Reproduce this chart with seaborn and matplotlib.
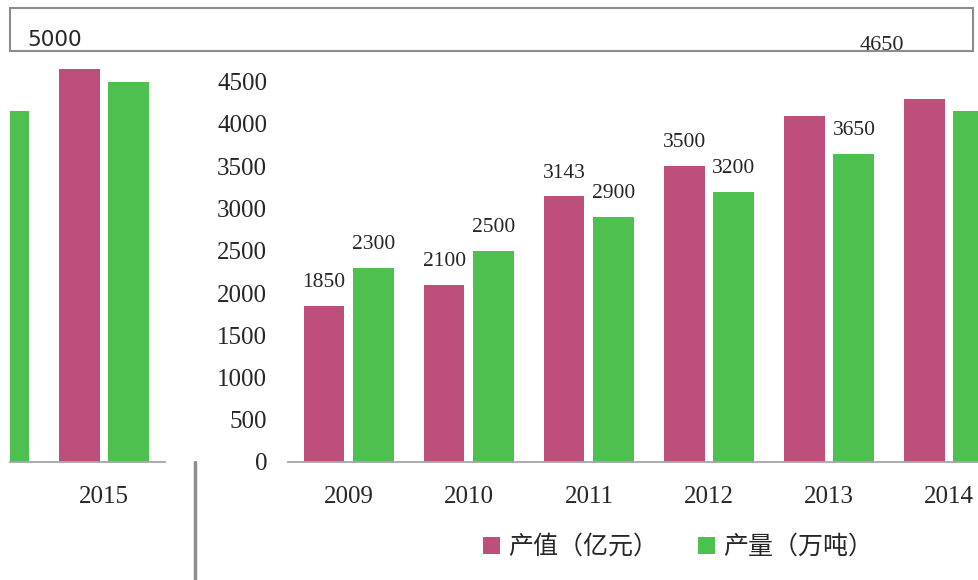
import numpy as np
import pandas as pd
import seaborn as sns
import matplotlib.pyplot as plt
from matplotlib.patches import Patch, Rectangle
from matplotlib.lines import Line2D

# datos
years = ["2009", "2010", "2011", "2012", "2013", "2014", "2015"]
output_value = [1850, 2100, 3143, 3500, 4100, 4300, 4650]   # 产值（亿元）
production = [2300, 2500, 2900, 3200, 3650, 4150, 4500]     # 产量（万吨）
series_names = ["产值（亿元）", "产量（万吨）"]
value_labels = ["1850", "2100", "3143", "3500", "", "", ""]
prod_labels = ["2300", "2500", "2900", "3200", "3650", "", ""]
ytick_values = [0, 500, 1000, 1500, 2000, 2500, 3000, 3500, 4000, 4500]

PINK = "#BE4F7C"
GREEN = "#4EC050"

df = pd.DataFrame({
    "year": years * 2,
    "value": output_value + production,
    "series": [series_names[0]] * len(years) + [series_names[1]] * len(years),
})

sns.set_theme(style="white")
plt.rcParams["font.family"] = ["Liberation Serif", "Noto Sans CJK SC", "DejaVu Sans"]

W, H = 979, 580
fig = plt.figure(figsize=(W / 100, H / 100), dpi=100)

def px_ax(x0, x1, y_top, y_bot):
    return fig.add_axes([x0 / W, 1 - y_bot / H, (x1 - x0) / W, (y_bot - y_top) / H])

ax = px_ax(288, 979, 39.5, 462)
ax_left = px_ax(10, 165, 39.5, 462)

for a in (ax, ax_left):
    sns.barplot(data=df, x="year", y="value", hue="series", order=years,
                hue_order=series_names, palette=[PINK, GREEN], saturation=1,
                width=0.83, gap=0.18, linewidth=0, legend=False, ax=a)
    a.set_ylim(0, 5000)
    a.set_xlabel("")
    a.set_ylabel("")
    for s in ["top", "right", "left"]:
        a.spines[s].set_visible(False)
    a.spines["bottom"].set_color("#A6A6A6")
    a.spines["bottom"].set_linewidth(1.3)
    a.tick_params(axis="x", length=0, pad=17, labelsize=18)
    a.tick_params(axis="y", length=0, pad=15, labelsize=18)

ax.set_xlim(-0.508, 5.25)
ax.set_yticks(ytick_values)
ax.set_yticklabels([str(v) for v in ytick_values])

ax_left.set_xlim(5.217, 6.508)
ax_left.set_yticks([])

# etiquetas de datos
ax.bar_label(ax.containers[0], labels=value_labels, padding=10, fontsize=15.5)
ax.bar_label(ax.containers[1], labels=prod_labels, padding=10, fontsize=15.5)

# textos sueltos en la parte superior
fig.text(55 / W, 1 - 40 / H, "5000", ha="center", va="center", fontsize=15.5,
         family="DejaVu Sans")
fig.text(882 / W, 1 - 45 / H, "4650", ha="center", va="center", fontsize=16)

# marco gris superior y linea vertical
fig.add_artist(Rectangle((10 / W, 1 - 51 / H), 963 / W, 43 / H, transform=fig.transFigure,
                         fill=False, edgecolor="#8C8C8C", linewidth=1.5))
fig.add_artist(Line2D([195 / W, 195 / W], [1 - 462 / H, 0], transform=fig.transFigure,
                      color="#8C8C8C", linewidth=2.5))

# leyenda
handles = [Patch(facecolor=PINK, edgecolor="none"), Patch(facecolor=GREEN, edgecolor="none")]
fig.legend(handles, series_names, loc="center", bbox_to_anchor=(678 / W, 1 - 547 / H),
           ncol=2, frameon=False, handlelength=0.7, handleheight=0.7, handletextpad=0.3,
           columnspacing=1.6, prop={"family": ["Noto Sans CJK SC"], "size": 18})

plt.savefig("out.png", dpi=100)
plt.close()
